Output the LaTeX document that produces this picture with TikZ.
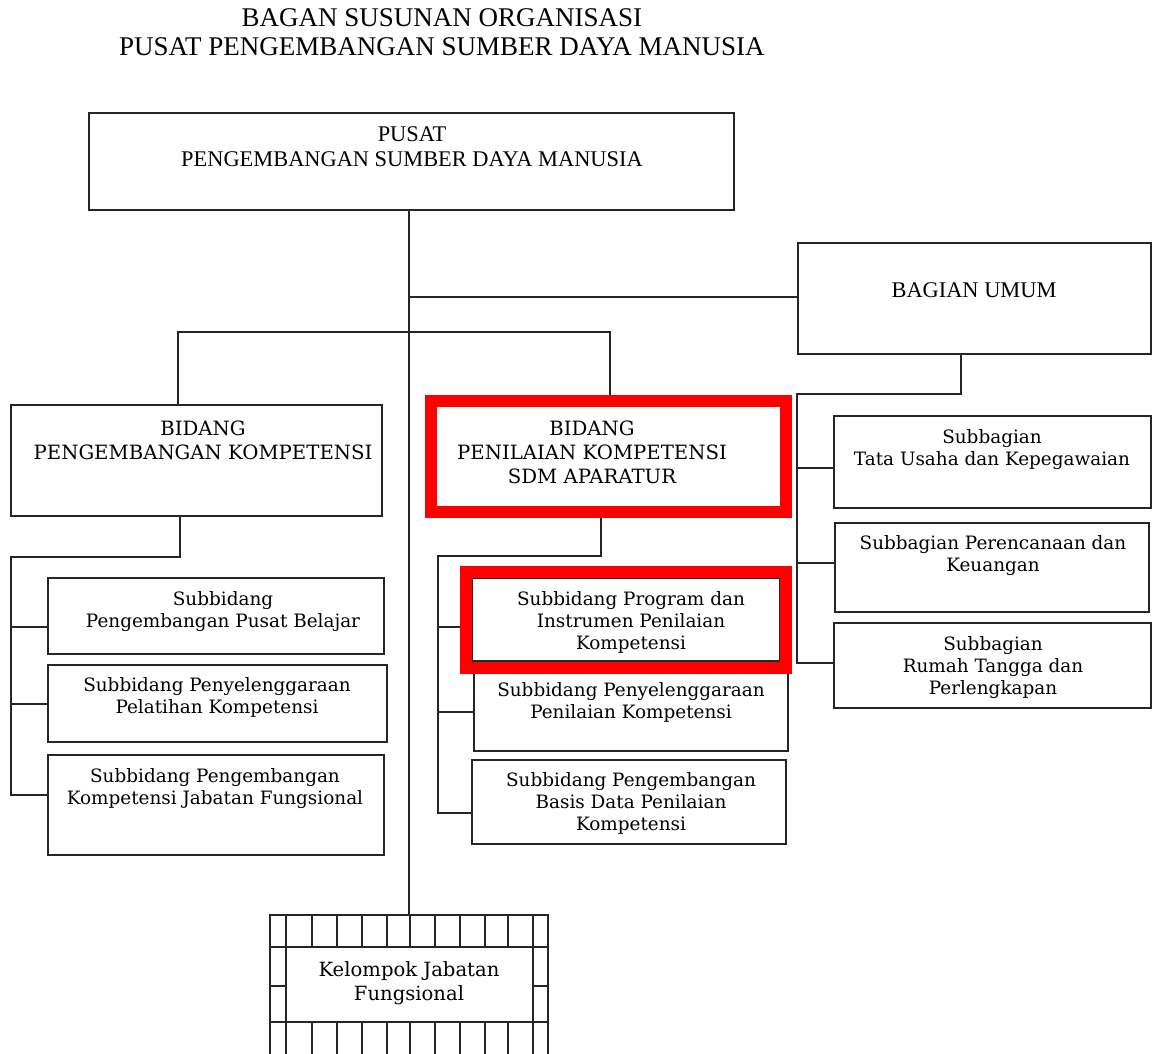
\documentclass[tikz,border=0pt]{standalone}
\usepackage{fontspec}
\setmainfont{DejaVu Serif}
\newfontfamily\timesfont{Liberation Serif}
\usetikzlibrary{calc}

\begin{document}
\begin{tikzpicture}[
  x=0.5pt, y=-0.5pt,
  unit/.style={draw=black!85, line width=0.9pt, inner sep=0pt, outer sep=0pt, anchor=north west},
  link/.style={draw=black!85, line width=0.9pt},
  hilite/.style={draw=red, line width=6pt},
  headtext/.style={font=\timesfont\fontsize{11.2}{12.5}\selectfont, align=center, inner sep=0pt, anchor=north},
  bidtext/.style={font=\fontsize{9.85}{12.2}\selectfont, align=center, inner sep=0pt, anchor=north},
  subtext/.style={font=\fontsize{9.2}{11}\selectfont, align=center, inner sep=0pt, anchor=north}]
\useasboundingbox (0,0) rectangle (1154,1053);

% title
\node[font=\timesfont\fontsize{13.5}{14.5}\selectfont, align=center, inner sep=0pt, anchor=north] (title) at (442,8)
  {BAGAN SUSUNAN ORGANISASI\\PUSAT PENGEMBANGAN SUMBER DAYA MANUSIA};

% units
\node[unit, minimum width=322.5pt, minimum height=48.5pt] (pusat) at (89,113) {};
\node[unit, minimum width=176.5pt, minimum height=55.5pt] (umum) at (798,243) {};
\node[unit, minimum width=185.5pt, minimum height=55.5pt] (bpk) at (11,405) {};
\node[unit, minimum width=174pt, minimum height=54pt] (bpn) at (436,403) {};
\node[unit, minimum width=168pt, minimum height=38pt] (sl1) at (48,578) {};
\node[unit, minimum width=169.5pt, minimum height=38.5pt] (sl2) at (48,665) {};
\node[unit, minimum width=168pt, minimum height=50pt] (sl3) at (48,755) {};
\node[unit, minimum width=154pt, minimum height=41.5pt] (sm1) at (472,578) {};
\node[unit, minimum width=157pt, minimum height=42.5pt] (sm2) at (474,666) {};
\node[unit, minimum width=157pt, minimum height=42pt] (sm3) at (472,760) {};
\node[unit, minimum width=158.5pt, minimum height=46pt] (sr1) at (834,416) {};
\node[unit, minimum width=157pt, minimum height=44.5pt] (sr2) at (835,523) {};
\node[unit, minimum width=158.5pt, minimum height=42.5pt] (sr3) at (834,623) {};
\node[unit, minimum width=139pt, minimum height=85pt] (kjfgrid) at (270,915) {};
\node[unit, minimum width=123.5pt, minimum height=37.5pt] (kjf) at (286,947) {};

% texts
\node[headtext] (pusat-t) at (412,126) {PUSAT\\PENGEMBANGAN SUMBER DAYA MANUSIA};
\node[headtext] (umum-t) at (974,282) {BAGIAN UMUM};
\node[bidtext] (bpk-t) at (203,420) {BIDANG\\PENGEMBANGAN KOMPETENSI};
\node[bidtext] (bpn-t) at (592,420) {BIDANG\\PENILAIAN KOMPETENSI\\SDM APARATUR};
\node[subtext] (sl1-t) at (223,591) {Subbidang\\Pengembangan Pusat Belajar};
\node[subtext] (sl2-t) at (217,677) {Subbidang Penyelenggaraan\\Pelatihan Kompetensi};
\node[subtext] (sl3-t) at (215,768) {Subbidang Pengembangan\\Kompetensi Jabatan Fungsional};
\node[subtext] (sm1-t) at (631,591) {Subbidang Program dan\\Instrumen Penilaian\\Kompetensi};
\node[subtext] (sm2-t) at (631,682) {Subbidang Penyelenggaraan\\Penilaian Kompetensi};
\node[subtext] (sm3-t) at (631,772) {Subbidang Pengembangan\\Basis Data Penilaian\\Kompetensi};
\node[subtext] (sr1-t) at (992,429) {Subbagian\\Tata Usaha dan Kepegawaian};
\node[subtext] (sr2-t) at (993,535) {Subbagian Perencanaan dan\\Keuangan};
\node[subtext] (sr3-t) at (993,636) {Subbagian\\Rumah Tangga dan\\Perlengkapan};
\node[subtext, font=\fontsize{9.8}{12}\selectfont] (kjf-t) at (409,961) {Kelompok Jabatan\\Fungsional};

% grid round the functional group
\foreach \x in {286,312,337,362,387,410,435,460,485,508,533}
  \draw[link] (\x,915) -- (\x,947) (\x,1022) -- (\x,1090);
\draw[link] (270,947) -- (548,947) (270,1022) -- (548,1022)
  (270,986) -- (286,986) (533,986) -- (548,986);

% connectors
\coordinate (jbid) at (178,332);
\coordinate (dropL) at (180,557);
\coordinate (busL) at (11,557);
\coordinate (dropM) at (601,556);
\coordinate (busM) at (438,556);
\coordinate (dropR) at (961,394);
\coordinate (busR) at (797,394);
\draw[link] (pusat.south -| kjfgrid.north) -- (kjfgrid.north);
\draw[link] ($(umum.west)+(0,-1.5)$) -- ++(-388,0);
\draw[link] (jbid |- bpk.north) -- (jbid) -| (bpn.north);
\draw[link] (dropL |- bpk.south) -- (dropL) -- (busL) |- ($(sl3.west)+(0,-10)$);
\foreach \n/\d in {sl1/11,sl2/0.5}
  \draw[link] ($(\n.west)+(0,\d)$) -- ++(-37,0);
\draw[link] (dropM |- bpn.south) -- (dropM) -- (busM) |- ($(sm3.west)+(0,11)$);
\draw[link] ($(sm1.west)+(0,7.5)$) -- ++(-34,0);
\draw[link] ($(sm2.west)+(0,3.5)$) -- ++(-36,0);
\draw[link] (dropR |- umum.south) -- (dropR) -- (busR) |- ($(sr3.west)+(0,-2.5)$);
\foreach \n/\d in {sr1/6,sr2/-4.5}
  \draw[link] ($(\n.west)+(0,\d)$) -- ++(-37,0);

% highlights
\draw[hilite] (431,401) rectangle (786,512);
\draw[hilite] (465.5,572) rectangle (786,667.5);
\end{tikzpicture}
\end{document}
